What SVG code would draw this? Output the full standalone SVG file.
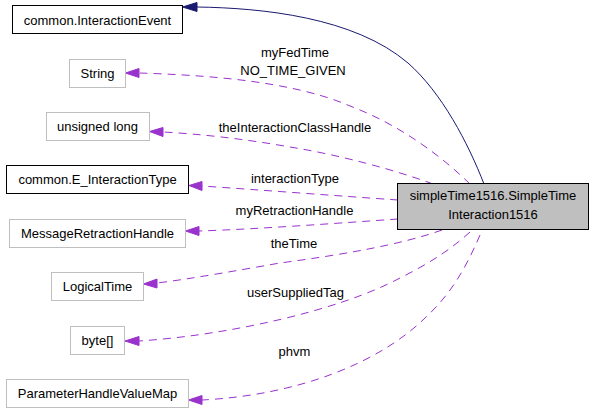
<svg xmlns="http://www.w3.org/2000/svg" width="595" height="413" viewBox="0 0 595 413">
<style>
text{font-family:"Liberation Sans",Arial,sans-serif;font-size:13px;fill:#000;}
.n{text-anchor:middle;}
.l{text-anchor:middle;}
.bk{fill:#fff;stroke:#000;stroke-width:1;}
.gr{fill:#fff;stroke:#bfbfbf;stroke-width:1;}
.main{fill:#bfbfbf;stroke:#000;stroke-width:1;}
.d{fill:none;stroke:#9a32cd;stroke-width:1;stroke-dasharray:8,6;}
.ah{fill:#9a32cd;stroke:#9a32cd;}
.g{fill:none;stroke:#191970;stroke-width:1;}
.gh{fill:#191970;stroke:#191970;}
</style>
<rect width="595" height="413" fill="#fff"/>
<g id="edges">
<path class="g" d="M484,184 C468,143 442,93 408,63 C354,17 262,8 197,7"/>
<polygon class="gh" points="197,2.5 182.5,7 197,11.5"/>
<path class="d" d="M470,184 C440,155 400,125 350,106 C290,80 200,75 139,73"/>
<polygon class="ah" points="139,68.5 125.5,73 139,77.5"/>
<path class="d" d="M433,184 C395,170 340,155 290,147 C245,139 200,134 163,132"/>
<polygon class="ah" points="163,127.5 149.5,131.5 163,136.5"/>
<path class="d" d="M398,200 C340,196 260,190 202,186"/>
<polygon class="ah" points="202,181.5 189,185.5 202,190.5"/>
<path class="d" d="M398,219 C340,223 260,229 199,231"/>
<polygon class="ah" points="199,226.5 185.5,231 199,235.5"/>
<path class="d" d="M442,230 C400,245 340,255 280,263 C240,270 190,279 157,283"/>
<polygon class="ah" points="157,279 143.5,284 157,288"/>
<path class="d" d="M470,232 C450,250 430,263 400,278 C340,310 230,335 139,341"/>
<polygon class="ah" points="139,336.5 125,341 139,345.5"/>
<path class="d" d="M480,235 C465,270 450,295 425,318 C380,362 300,395 202,400"/>
<polygon class="ah" points="202,395.5 188.5,400 202,404.5"/>
<text class="l" x="295" y="57">myFedTime</text>
<text class="l" x="293" y="75">NO_TIME_GIVEN</text>
<text class="l" x="295" y="132">theInteractionClassHandle</text>
<text class="l" x="295" y="183">interactionType</text>
<text class="l" x="294.5" y="215">myRetractionHandle</text>
<text class="l" x="294" y="248">theTime</text>
<text class="l" x="295.5" y="297">userSuppliedTag</text>
<text class="l" x="294.5" y="356">phvm</text>
</g>
<g id="main">
<rect class="main" x="397.5" y="183.5" width="191" height="46"/>
<text class="n" x="493" y="200">simpleTime1516.SimpleTime</text>
<text class="n" x="493" y="219">Interaction1516</text>
</g>
<g id="interactionEvent">
<rect class="bk" x="12.5" y="5.5" width="170" height="28"/>
<text class="n" x="97.5" y="24.5">common.InteractionEvent</text>
</g>
<g id="string">
<rect class="gr" x="69.5" y="59.5" width="56" height="28"/>
<text class="n" x="97.5" y="77.5">String</text>
</g>
<g id="unsignedLong">
<rect class="gr" x="46.5" y="112.5" width="103" height="28"/>
<text class="n" x="97.5" y="130.5">unsigned long</text>
</g>
<g id="eInteractionType">
<rect class="bk" x="6.5" y="165.5" width="182" height="28"/>
<text class="n" x="97.5" y="183.5">common.E_InteractionType</text>
</g>
<g id="messageRetractionHandle">
<rect class="gr" x="9.5" y="219.5" width="176" height="28"/>
<text class="n" x="97.5" y="237.5">MessageRetractionHandle</text>
</g>
<g id="logicalTime">
<rect class="gr" x="51.5" y="272.5" width="92" height="28"/>
<text class="n" x="97.5" y="290.5">LogicalTime</text>
</g>
<g id="byteArray">
<rect class="gr" x="70.5" y="326.5" width="54" height="28"/>
<text class="n" x="97.5" y="344.5">byte[]</text>
</g>
<g id="phvm">
<rect class="gr" x="6.5" y="379.5" width="182" height="28"/>
<text class="n" x="97.5" y="397.5">ParameterHandleValueMap</text>
</g>
</svg>
